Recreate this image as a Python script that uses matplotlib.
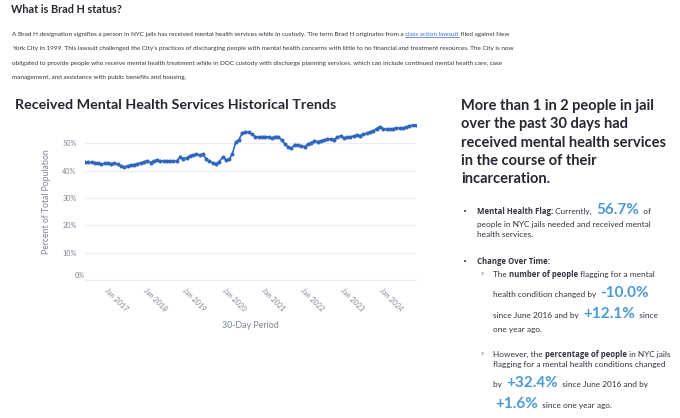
import numpy as np
import pandas as pd
import matplotlib
matplotlib.use("Agg")
from matplotlib import pyplot as plt
from matplotlib.lines import Line2D
from matplotlib.transforms import ScaledTranslation

# monthly share of people in custody who received mental health services (%)
pct_mh = [43.1, 43.0, 43.0, 42.9, 42.8, 42.3, 42.7, 42.6, 42.5, 42.8,
          42.3, 41.6, 41.2, 41.8, 41.9, 42.2, 42.5, 42.8, 43.2, 43.6,
          42.9, 43.6, 43.8, 43.5, 43.4, 43.5, 43.5, 43.4, 43.5, 44.9,
          44.4, 44.7, 45.4, 45.8, 45.9, 45.8, 45.9, 44.3, 43.4, 42.8,
          42.5, 43.3, 44.8, 44.0, 44.1, 46.1, 50.4, 51.3, 53.6, 54.1,
          54.0, 53.2, 52.4, 52.2, 52.4, 52.4, 52.2, 51.8, 52.4, 52.4,
          51.2, 49.8, 48.6, 48.1, 49.5, 49.3, 49.0, 48.7, 49.6, 50.2,
          50.7, 50.6, 50.8, 51.2, 51.4, 51.6, 51.3, 52.1, 52.7, 52.0,
          52.1, 52.3, 52.6, 52.9, 52.8, 53.2, 53.6, 54.1, 54.6, 55.3,
          56.0, 55.2, 55.1, 55.1, 55.3, 55.5, 55.5, 55.4, 55.8, 56.2,
          56.6, 56.7]
periods = pd.date_range("2016-06-01", periods=len(pct_mh), freq="MS")
tick_years = [2017, 2018, 2019, 2020, 2021, 2022, 2023, 2024]
y_ticks = [0, 10, 20, 30, 40, 50]

W, H = 680, 418
FONT = "Lato"
BOLD_FONT = "Open Sans"
DARK = "#262730"
BODY = "#31333f"
GREY = "#808495"
BLUE_NUM = "#4a9ad6"
LINE_BLUE = "#2f66bd"

fig = plt.figure(figsize=(W / 100, H / 100), dpi=100)
fig.patch.set_facecolor("white")
R = fig.canvas.get_renderer()


def fx(x):
    return x / W


def fy(y):
    return 1 - y / H


def text_w(s, **kw):
    # advance width incl. trailing spaces
    a = fig.text(0, 0, s + "|", **kw)
    b = fig.text(0, 0, "|", **kw)
    w = a.get_window_extent(R).width - b.get_window_extent(R).width
    a.remove()
    b.remove()
    return w


def runs(x, y, parts):
    for s, kw in parts:
        kw = dict(kw)
        kw.setdefault("family", FONT)
        kw.setdefault("color", BODY)
        fig.text(fx(x), fy(y), s, ha="left", va="baseline", **kw)
        x += text_w(s, **kw)
    return x


# ---- header
fig.text(fx(11), fy(12.7), "What is Brad H status?", family=FONT,
         weight="bold", fontsize=7.8, color=DARK, va="baseline")

p = dict(fontsize=4.56)
para = [
    "A Brad H designation signifies a person in NYC jails has received mental health services while in custody. The term Brad H originates from a ",
    "York City in 1999. This lawsuit challenged the City\u2019s practices of discharging people with mental health concerns with little to no financial and treatment resources. The City is now",
    "obligated to provide people who receive mental health treatment while in DOC custody with discharge planning services, which can include continued mental health care, case",
    "management, and assistance with public benefits and housing.",
]
base = [35.7, 50.2, 64.7, 79.2]
x = runs(12, base[0], [(para[0], p)])
link = "class action lawsuit"
lw = text_w(link, family=FONT, **p)
runs(x, base[0], [(link, dict(p, color="#3b72c8"))])
fig.add_artist(Line2D([fx(x), fx(x + lw)], [fy(base[0] + 1.3)] * 2,
                      color="#3b72c8", lw=0.5))
runs(x + lw, base[0], [(" filed against New", p)])
for s, b in zip(para[1:], base[1:]):
    runs(12, b, [(s, p)])

# ---- chart
fig.text(fx(15), fy(109.3), "Received Mental Health Services Historical Trends",
         family=FONT, weight="bold", fontsize=10.3, color=DARK, va="baseline")

ax = fig.add_axes([fx(85), fy(280.2), (416 - 85) / W, (280.2 - 124) / H])
ax.plot(periods, pct_mh, color=LINE_BLUE, lw=1.2, marker="o", ms=1.9,
        mec=LINE_BLUE, mfc=LINE_BLUE, zorder=3)
ax.axhline(0, color="#ececec", lw=0.8, clip_on=False, zorder=1)
ax.set_xlim(periods[0], periods[-1])
ax.set_ylim(0, 57)
ax.set_yticks(y_ticks)
ax.set_yticklabels([f"{v}%" for v in y_ticks])
ax.set_xticks([pd.Timestamp(f"{yr}-01-01") for yr in tick_years])
ax.set_xticklabels([f"Jan {yr}" for yr in tick_years], rotation=-45,
                   ha="left", va="top", rotation_mode="anchor")
for s in ax.spines.values():
    s.set_visible(False)
ax.grid(axis="y", color="#ececec", lw=0.8)
ax.grid(axis="x", visible=False)
ax.tick_params(length=0, colors=GREY, labelsize=5.2)
ax.tick_params(axis="y", pad=6)
ax.tick_params(axis="x", pad=5)
for lab in ax.get_xticklabels() + ax.get_yticklabels():
    lab.set_family(FONT)
ax.get_yticklabels()[0].set_transform(
    ax.get_yaxis_transform(which="tick1") + ScaledTranslation(0, 3.5 / 72, fig.dpi_scale_trans))
ax.set_ylabel("Percent of Total Population", family=FONT, fontsize=6.2,
              color=GREY, labelpad=8)
ax.set_xlabel("30-Day Period", family=FONT, fontsize=6.4, color=GREY,
              labelpad=6)

# ---- right panel
head = ["More than 1 in 2 people in jail", "over the past 30 days had",
        "received mental health services", "in the course of their",
        "incarceration."]
for i, s in enumerate(head):
    fig.text(fx(461), fy(110 + i * 18.3), s, family=FONT, weight="bold",
             fontsize=10.5, color=DARK, va="baseline")

t = dict(fontsize=5.95)
tb = dict(fontsize=5.6, weight="bold", family=BOLD_FONT)
big = dict(fontsize=11, weight="bold", color=BLUE_NUM)
dot = dict(family="DejaVu Sans", fontsize=5, color=BODY)
circ = dict(family="DejaVu Sans", fontsize=6.5, color="#777777")

runs(463, 214, [("\u2022", dot)])
runs(477, 214, [("Mental Health Flag:", tb), (" Currently,  ", t),
                ("56.7%", big), ("  of", t)])
runs(477, 227.3, [("people in NYC jails needed and received mental", t)])
runs(477, 237.3, [("health services.", t)])

runs(463, 264, [("\u2022", dot)])
runs(477, 264, [("Change Over Time:", tb)])
runs(480, 277.3, [("\u25e6", circ)])
runs(493, 277.3, [("The ", t), ("number of people", tb),
                  (" flagging for a mental", t)])
runs(493, 296.7, [("health condition changed by  ", t), ("-10.0%", big)])
runs(493, 318.3, [("since June 2016 and by  ", t), ("+12.1%", big),
                  ("  since", t)])
runs(493, 331.7, [("one year ago.", t)])
runs(480, 357.3, [("\u25e6", circ)])
runs(493, 357.3, [("However, the ", t), ("percentage of people", tb),
                  (" in NYC jails", t)])
runs(493, 367.3, [("flagging for a mental health conditions changed", t)])
runs(493, 387.3, [("by  ", t), ("+32.4%", big), ("  since June 2016 and by", t)])
runs(495, 408.3, [("+1.6%", big), ("  since one year ago.", t)])

fig.savefig("out.png", dpi=100, facecolor="white")
